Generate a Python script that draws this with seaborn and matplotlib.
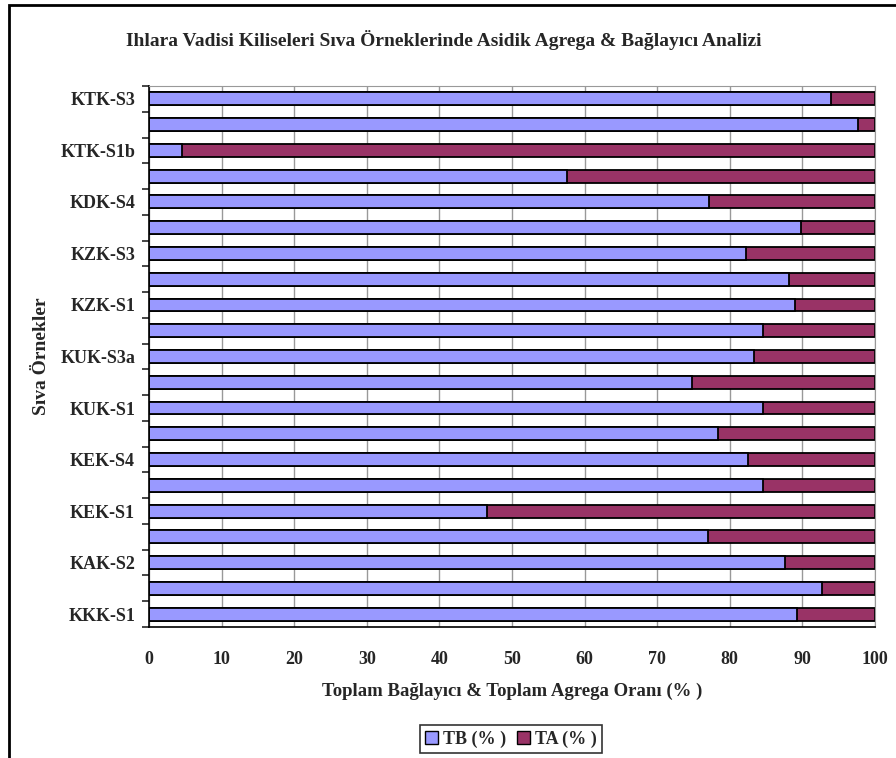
import pandas as pd
import seaborn as sns
import matplotlib.pyplot as plt
from matplotlib.patches import Rectangle, Patch

# samples listed top to bottom, labels shown on every other row
samples = ['KTK-S3', 'KTK-S2', 'KTK-S1b', 'KTK-S1a', 'KDK-S4', 'KDK-S1',
           'KZK-S3', 'KZK-S2', 'KZK-S1', 'KUK-S3b', 'KUK-S3a', 'KUK-S2',
           'KUK-S1', 'KEK-S5', 'KEK-S4', 'KEK-S2', 'KEK-S1', 'KAK-S3',
           'KAK-S2', 'KAK-S1', 'KKK-S1']
tb = [94.0, 97.6, 4.5, 57.6, 77.2, 89.8, 82.2, 88.2, 89.0, 84.6, 83.4,
      74.8, 84.6, 78.4, 82.5, 84.6, 46.6, 77.0, 87.6, 92.7, 89.2]
ta = [100 - v for v in tb]
x_ticks = list(range(0, 101, 10))

df = pd.DataFrame({'sample': samples, 'TB': tb, 'TA': ta})
df['total'] = df['TB'] + df['TA']

sns.set_style('white')
plt.rcParams['font.family'] = ['Liberation Serif', 'DejaVu Serif']
plt.rcParams['font.weight'] = 'bold'

fig = plt.figure(figsize=(8.96, 7.58), dpi=100)
ax = fig.add_axes([149 / 896, 1 - 627 / 758, 726 / 896, 541 / 758])

tb_col = '#9999FF'
ta_col = '#993366'

# full-length TA bar underneath, TB bar drawn over it
sns.barplot(data=df, x='total', y='sample', order=samples, color=ta_col,
            edgecolor='black', linewidth=1.3, width=0.5, saturation=1, ax=ax)
sns.barplot(data=df, x='TB', y='sample', order=samples, color=tb_col,
            edgecolor='black', linewidth=1.3, width=0.5, saturation=1, ax=ax)

ax.set_xlim(0, 100)
ax.set_ylim(len(samples) - 0.5, -0.5)
ax.set_xticks(x_ticks)
ax.set_xticklabels([str(t) for t in x_ticks], fontsize=13, fontweight='bold')
ax.tick_params(axis='x', direction='inout', length=10, width=1.2, pad=12)
ax.xaxis.grid(True, color='#999999', linewidth=1)
ax.set_axisbelow(True)

ax.set_yticks(range(len(samples)))
ax.set_yticklabels([s if i % 2 == 0 else '' for i, s in enumerate(samples)],
                   fontsize=13, fontweight='bold')
ax.tick_params(axis='y', which='major', length=0, pad=10)
ax.set_yticks([i - 0.5 for i in range(len(samples) + 1)], minor=True)
ax.tick_params(axis='y', which='minor', direction='out', length=5, width=1.2, left=True)

for side in ['top', 'right']:
    ax.spines[side].set_color('#999999')
for side in ['left', 'bottom']:
    ax.spines[side].set_color('black')
    ax.spines[side].set_linewidth(1.2)

ax.set_xlabel('Toplam Bağlayıcı & Toplam Agrega Oranı (% )', fontsize=13.5,
              fontweight='bold', labelpad=11)
ax.set_ylabel('Sıva Örnekler', fontsize=14, fontweight='bold')
ax.yaxis.set_label_coords(-0.137, 0.5)

fig.text(0.495, 1 - 40 / 758, 'Ihlara Vadisi Kiliseleri Sıva Örneklerinde Asidik Agrega & Bağlayıcı Analizi',
         ha='center', va='center', fontsize=14, fontweight='bold')

handles = [Patch(facecolor=tb_col, edgecolor='black'), Patch(facecolor=ta_col, edgecolor='black')]
leg = fig.legend(handles, ['TB (% )', 'TA (% )'], loc='center', ncol=2,
                 bbox_to_anchor=(511 / 896, 1 - 739 / 758), frameon=True, fancybox=False,
                 prop={'weight': 'bold', 'size': 13}, handlelength=0.7, handleheight=0.7,
                 handletextpad=0.3, columnspacing=0.6, borderpad=0.3)
leg.get_frame().set_edgecolor('black')
leg.get_frame().set_linewidth(1.2)

fig.patches.append(Rectangle((9 / 896, -0.05), 1.05, 1 - 5 / 758 + 0.05, transform=fig.transFigure,
                             fill=False, edgecolor='black', linewidth=2))

fig.savefig('out.png', dpi=100)
